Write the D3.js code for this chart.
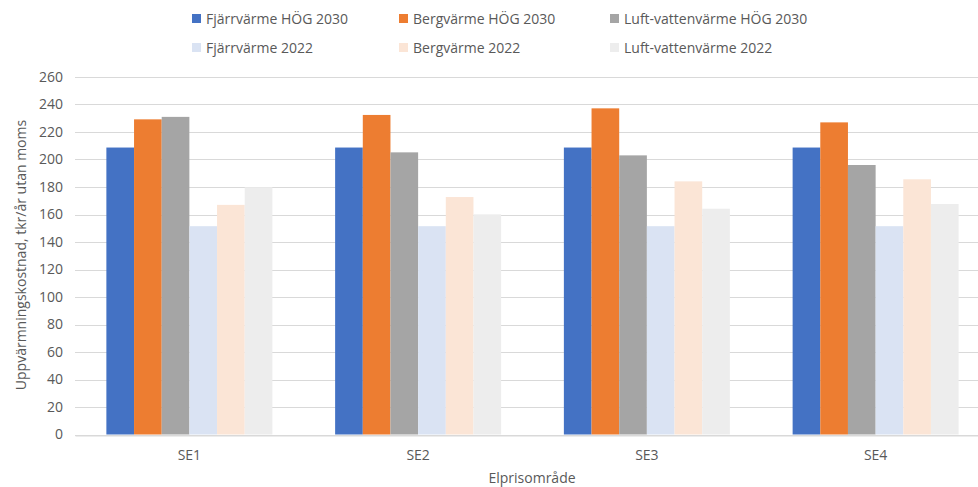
<!DOCTYPE html>
<html><head><meta charset="utf-8">
<script src="https://cdn.jsdelivr.net/npm/d3@7"></script>
<style>body{margin:0;background:#fff}svg{display:block;font-family:"Open Sans",sans-serif}</style>
</head><body><svg id="c" width="978" height="487"></svg>
<script>
const categories = ["SE1","SE2","SE3","SE4"];
const seriesNames = ["Fjärrvärme HÖG 2030","Bergvärme HÖG 2030","Luft-vattenvärme HÖG 2030","Fjärrvärme 2022","Bergvärme 2022","Luft-vattenvärme 2022"];
const fjarrHog = [208.7,208.7,208.7,208.7];
const bergHog = [229.2,232.4,237.2,227];
const luftHog = [231,205.2,203,196];
const fjarr22 = [151.5,151.5,151.5,151.5];
const berg22 = [167,172.7,184.1,185.6];
const luft22 = [179.8,160.1,164.2,167.6];
const colors = ["#4472C4","#ED7D31","#A5A5A5","#DAE3F3","#FBE5D6","#EDEDED"];
const yTicks = [0,20,40,60,80,100,120,140,160,180,200,220,240,260];

const values = [fjarrHog,bergHog,luftHog,fjarr22,berg22,luft22];
const svg = d3.select("#c");
const x0 = d3.scaleBand().domain(categories).range([75,990]).paddingInner(0).paddingOuter(0);
const groupW = 166;
const x1 = d3.scaleBand().domain(d3.range(6)).range([0,groupW]);
const y = d3.scaleLinear().domain([0,260]).range([434.5,77]);

// gridlines
svg.append("g").selectAll("line").data(yTicks).join("line")
  .attr("x1",75).attr("x2",990).attr("y1",d=>Math.round(y(d))+0.5).attr("y2",d=>Math.round(y(d))+0.5)
  .attr("stroke","#D9D9D9").attr("stroke-width",1);

// y axis labels
const ya = svg.append("g").attr("transform","translate(63,0)")
  .call(d3.axisLeft(y).tickValues(yTicks).tickSize(0).tickPadding(0));
ya.select(".domain").remove();
ya.selectAll("text").attr("font-size",14).attr("fill","#595959").attr("font-family","Open Sans");

// bars
const g = svg.append("g");
categories.forEach((c,i)=>{
  const off = x0(c) + (x0.bandwidth()-groupW)/2;
  g.append("g").attr("transform",`translate(${off},0)`).selectAll("rect")
   .data(values.map((s,k)=>({k,v:s[i]}))).join("rect")
   .attr("x",d=>x1(d.k)).attr("width",x1.bandwidth())
   .attr("y",d=>y(d.v)).attr("height",d=>y(0)-y(d.v))
   .attr("fill",d=>colors[d.k]);
});

// x axis
const xa = svg.append("g").attr("transform",`translate(0,${Math.round(y(0))+0.5})`)
  .call(d3.axisBottom(x0).tickSize(0).tickPadding(15));
xa.select(".domain").attr("stroke","#D9D9D9");
xa.selectAll("text").attr("font-size",14).attr("fill","#595959").attr("font-family","Open Sans");

// axis titles
svg.append("text").attr("x",532).attr("y",483).attr("text-anchor","middle")
  .attr("font-size",14).attr("fill","#595959").text("Elprisområde");
svg.append("text").attr("transform","translate(26,255) rotate(-90)").attr("text-anchor","middle")
  .attr("font-size",14).attr("fill","#595959").text("Uppvärmningskostnad, tkr/år utan moms");

// legend
const legX = [192,399,610];
const legY = [19,48];
const leg = svg.append("g");
seriesNames.forEach((n,k)=>{
  const lx = legX[k%3], ly = legY[Math.floor(k/3)];
  leg.append("rect").attr("x",lx).attr("y",ly-5).attr("width",9).attr("height",9).attr("fill",colors[k]);
  leg.append("text").attr("x",lx+14).attr("y",ly).attr("dy","0.35em")
    .attr("font-size",14).attr("fill","#595959").text(n);
});
</script></body></html>
